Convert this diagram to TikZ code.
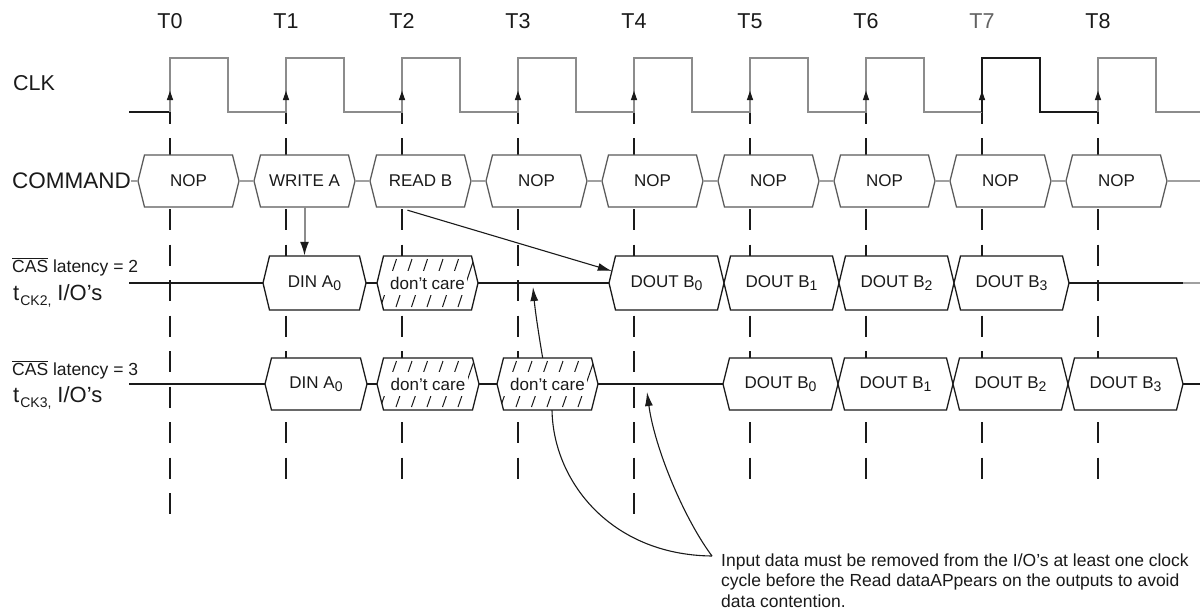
\documentclass[tikz,border=0pt]{standalone}
\usepackage{fontspec}
\setmainfont{Liberation Sans}
\usetikzlibrary{arrows.meta,calc}
\definecolor{clkgray}{HTML}{8C8C8C}
\definecolor{cmdedge}{HTML}{5A5A5A}
\definecolor{cmdconn}{HTML}{A0A0A0}
\definecolor{ink}{HTML}{1A1A1A}

\newcommand\lowidx[1]{\raisebox{-3.5pt}{\fontsize{14}{14}\selectfont #1}}
\newcommand\ovl[1]{\vbox{\hrule height 1pt\kern 1.6pt\hbox{#1}}}
\newcommand\hexshape[5]{\path[#5] (#1,{(#3+#4)/2}) -- ({#1+6.5},#3) -- ({#2-6.5},#3) -- (#2,{(#3+#4)/2}) -- ({#2-6.5},#4) -- ({#1+6.5},#4) -- cycle;}
\newcommand\hexclip[4]{\clip (#1,{(#3+#4)/2}) -- ({#1+6.5},#3) -- ({#2-6.5},#3) -- (#2,{(#3+#4)/2}) -- ({#2-6.5},#4) -- ({#1+6.5},#4) -- cycle;}
\newcommand\boxnode[6]{\pgfmathsetmacro\bxw{#3-#2}\pgfmathsetmacro\bxh{#5-#4}\node[boxtext,minimum width=\bxw pt,minimum height=\bxh pt] (#1) at ({(#2+#3)/2},{(#4+#5)/2}) {#6};}
\newcommand\iobox[6]{\hexshape{#2}{#3}{#4}{#5}{iostyle}\boxnode{#1}{#2}{#3}{#4}{#5}{#6}}
\newcommand\dcbox[5]{%
 \hexshape{#2}{#3}{#4}{#5}{fill=white}
 \begin{scope}\hexclip{#2}{#3}{#4}{#5}
 \foreach \k in {0,...,8}{\draw[hatch] ({#2-12+15.5*\k},{#5-3}) -- ++(16,{-(#5-#4-6)});}
 \fill[white] ({#2+2},{(#4+#5)/2-12}) rectangle ({#3-11},{(#4+#5)/2+11.5});
 \end{scope}
 \node[boxtext] (#1t) at ({(#2+#3)/2},{(#4+#5)/2}) {don't care};
 \hexshape{#2}{#3}{#4}{#5}{draw=ink,line width=1.3pt}
 \boxnode{#1}{#2}{#3}{#4}{#5}{}}

\begin{document}
\begin{tikzpicture}[x=1pt,y=-1pt,
 boxtext/.style={font=\fontsize{17}{19}\selectfont,inner sep=0pt,text=ink},
 lbl/.style={font=\fontsize{21.5}{24}\selectfont,inner sep=0pt,text=ink},
 iostyle/.style={draw=ink,line width=1.3pt,fill=white},
 cmdstyle/.style={draw=cmdedge,line width=1.3pt,fill=white},
 sig/.style={draw=ink,line width=1.4pt},
 cmdwire/.style={draw=cmdconn,line width=2pt},
 clk/.style={draw=clkgray,line width=1.8pt},
 clkblk/.style={draw=ink,line width=1.8pt},
 vdash/.style={draw=ink,line width=1.4pt},
 hatch/.style={draw=ink,line width=1pt},
 arr/.style={draw=ink,line width=1.1pt,-{Latex[length=14pt,width=8pt]}},
 garr/.style={draw=clkgray,line width=2pt,-{Latex[length=14pt,width=9pt,color=ink]}},
]
\fill[white] (0,0) rectangle (1200,610);
\useasboundingbox (0,0) rectangle (1200,610);

% time labels
\foreach \n in {0,1,2,3,4,5,6,8}{\node[lbl] (t\n) at ({170+116*\n},21) {T\n};}
\node[lbl,text=clkgray!70!black] (t7) at ({170+116*7},21) {T7};

% dashed time lines
\foreach \n/\m in {0/10,1/9,2/9,3/9,4/10,5/9,6/9,7/9,8/9}{
 \draw[vdash] ({170+116*\n},95) -- ({170+116*\n},124);
 \foreach \k in {0,...,\m}{\draw[vdash] ({170+116*\n},{138+35.5*\k}) -- ++(0,21);}
}

% clock
\coordinate (clk0) at (129,112);
\coordinate (clkend) at (1200,112);
\draw[clkblk] (clk0) -- (170,112);
\draw[clk] (170,112) \foreach \n in {0,...,6}{ -- ({170+116*\n},58) -- ({228+116*\n},58) -- ({228+116*\n},112) -- ({286+116*\n},112)};
\draw[clkblk] (982,112) -- (982,58) -- (1040,58) -- (1040,112) -- (1098,112);
\draw[clk] (1098,112) -- (1098,58) -- (1156,58) -- (1156,112) -- (clkend);
\foreach \n in {0,...,8}{\fill[ink] ({170+116*\n},91) -- ++(-3.2,9) -- ++(6.4,0) -- cycle;}

% signal labels
\node[lbl,anchor=west] (clklbl) at (13,83) {CLK};
\node[lbl,anchor=west,font=\fontsize{22.5}{24}\selectfont] (cmdlbl) at (12,181) {COMMAND};
\node[anchor=west,inner sep=0pt,text=ink,font=\fontsize{17.5}{19}\selectfont] (cas2) at (12,267) {\ovl{CAS} latency = 2};
\node[anchor=base west,inner sep=0pt,text=ink] (tck2) at (13,300) {\fontsize{22}{24}\selectfont t\kern1pt\raisebox{-5pt}{\fontsize{14}{16}\selectfont CK2,}\kern6pt I/O's};
\node[anchor=west,inner sep=0pt,text=ink,font=\fontsize{17.5}{19}\selectfont] (cas3) at (12,370) {\ovl{CAS} latency = 3};
\node[anchor=base west,inner sep=0pt,text=ink] (tck3) at (13,402) {\fontsize{22}{24}\selectfont t\kern1pt\raisebox{-5pt}{\fontsize{14}{16}\selectfont CK3,}\kern6pt I/O's};

% note
\node[anchor=north west,inner sep=0pt,align=left,text=ink,font=\fontsize{17.5}{20.5}\selectfont] (note) at (721,553.5) {Input data must be removed from the I/O's at least one clock\\cycle before the Read dataAPpears on the outputs to avoid\\data contention.};
\coordinate (nt) at ($(note.north west)+(-9,2.5)$);
\coordinate (tipA) at (533,287);
\coordinate (tipB) at (647,392);
\draw[arr] (nt) .. controls (610,555) and (552,480) .. (552,408) .. controls (546,380) and (536,320) .. (tipA);
\draw[arr] (nt) .. controls (685,520) and (655,450) .. (tipB);

% command row
\foreach \i/\txt in {0/NOP,1/WRITE A,2/READ B,3/NOP,4/NOP,5/NOP,6/NOP,7/NOP,8/NOP}{
 \pgfmathsetmacro\xa{138+116*\i}\pgfmathsetmacro\xb{239+116*\i}
 \hexshape{\xa}{\xb}{155}{207}{cmdstyle}
 \boxnode{c\i}{\xa}{\xb}{155}{207}{\txt}
}
\coordinate (cmdend) at (1200,181);
\draw[cmdwire] (cmdlbl.east) -- (c0.west);
\foreach \i/\j in {0/1,1/2,2/3,3/4,4/5,5/6,6/7,7/8}{\draw[cmdwire] (c\i.east) -- (c\j.west);}
\draw[cmdwire] (c8.east) -- (cmdend);

% CAS latency 2 row
\iobox{d2a}{263}{366}{256}{310}{DIN A\lowidx{0}}
\dcbox{x2a}{377}{478}{256}{310}
\foreach \k in {0,...,3}{
 \pgfmathsetmacro\xa{609+115*\k}\pgfmathsetmacro\xb{724+115*\k}
 \iobox{q\k}{\xa}{\xb}{256}{310}{DOUT B\lowidx{\k}}
}
\coordinate (s2a) at (129,283);
\coordinate (s2b) at (1183,283);
\coordinate (s2c) at (1200,283);
\draw[sig] (s2a) -- (d2a.west);
\draw[sig] (d2a.east) -- (x2a.west);
\draw[sig] (x2a.east) -- (q0.west);
\draw[sig] (q3.east) -- (s2b);
\draw[sig,draw=cmdconn] (s2b) -- (s2c);

% CAS latency 3 row
\iobox{d3a}{265}{367}{358}{410}{DIN A\lowidx{0}}
\dcbox{x3a}{377}{479}{358}{410}
\dcbox{x3b}{497}{598}{358}{410}
\foreach \k in {0,...,3}{
 \pgfmathsetmacro\xa{723+115*\k}\pgfmathsetmacro\xb{838+115*\k}
 \iobox{r\k}{\xa}{\xb}{358}{410}{DOUT B\lowidx{\k}}
}
\coordinate (s3a) at (129,384);
\coordinate (s3b) at (1200,384);
\draw[sig] (s3a) -- (d3a.west);
\draw[sig] (d3a.east) -- (x3a.west);
\draw[sig] (x3a.east) -- (x3b.west);
\draw[sig] (x3b.east) -- (r0.west);
\draw[sig] (r3.east) -- (s3b);

% arrows from commands
\draw[garr] (c1.south) -- (c1.south |- d2a.north);
\draw[arr] ($(c2.south)+(-13,3)$) -- ($(q0.west)+(3,-12)$);
\end{tikzpicture}
\end{document}
